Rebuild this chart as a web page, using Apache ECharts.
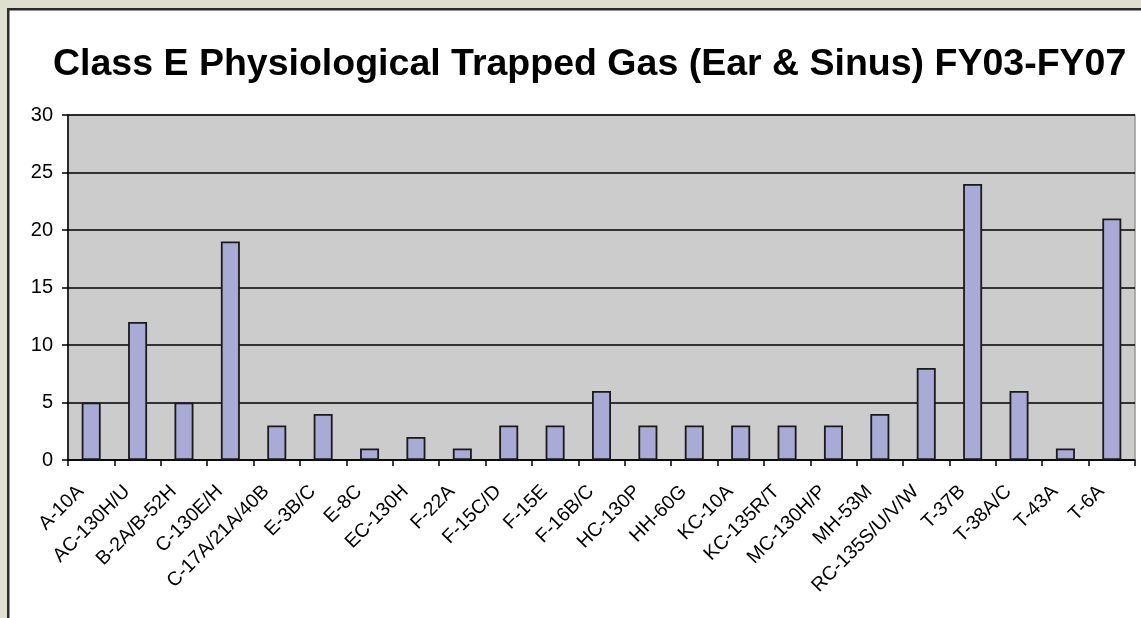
<!DOCTYPE html>
<html><head><meta charset="utf-8">
<script src="https://cdn.jsdelivr.net/npm/echarts@6/dist/echarts.min.js"></script>
<style>html,body{margin:0;padding:0;background:#dfdfcf;}#c{width:1141px;height:618px;}</style>
</head><body><div id="c"></div>
<script>
const title = 'Class E Physiological Trapped Gas (Ear & Sinus) FY03-FY07';
const categories = ['A-10A','AC-130H/U','B-2A/B-52H','C-130E/H','C-17A/21A/40B','E-3B/C','E-8C','EC-130H','F-22A','F-15C/D','F-15E','F-16B/C','HC-130P','HH-60G','KC-10A','KC-135R/T','MC-130H/P','MH-53M','RC-135S/U/V/W','T-37B','T-38A/C','T-43A','T-6A'];
const values = [5,12,5,19,3,4,1,2,1,3,3,6,3,3,3,3,3,4,8,24,6,1,21];
const yTicks = [0,5,10,15,20,25,30];

const font = '"Liberation Sans", Arial, sans-serif';
const chart = echarts.init(document.getElementById('c'), null, {renderer:'canvas'});
chart.setOption({
  backgroundColor: '#dfdfcf',
  animation: false,
  graphic: [{
    type: 'rect', left: 7, top: 8, z: -10,
    shape: {width: 1150, height: 630},
    style: {fill: '#ffffff', stroke: '#2b2b2b', lineWidth: 2.5}
  }],
  title: {
    text: title, left: 48, top: 41,
    textStyle: {fontFamily: font, fontWeight: 'bold', fontSize: 37.5, color: '#000'}
  },
  grid: {
    left: 68, top: 115, right: 6, bottom: 158,
    show: true, backgroundColor: '#cccccc', borderColor: '#999999', borderWidth: 1.5
  },
  xAxis: {
    type: 'category', data: categories,
    axisLine: {lineStyle: {color: '#000', width: 1.5}},
    axisTick: {show: true, length: 6, lineStyle: {color: '#000', width: 1.5}},
    axisLabel: {rotate: 45, fontFamily: font, fontSize: 19.5, color: '#000', margin: 18, padding: [0, 15, 0, 0], interval: 0}
  },
  yAxis: {
    type: 'value', min: yTicks[0], max: yTicks[yTicks.length-1], interval: 5,
    axisLine: {show: true, lineStyle: {color: '#000', width: 1.5}},
    axisTick: {show: true, length: 6, lineStyle: {color: '#000', width: 1.5}},
    splitLine: {show: true, lineStyle: {color: '#000', width: 1.5}},
    axisLabel: {fontFamily: font, fontSize: 20, color: '#000', margin: 15}
  },
  series: [{
    type: 'bar', data: values, barWidth: 19,
    itemStyle: {color: '#aaaad6', borderColor: '#1a1a1a', borderWidth: 1.8}
  }]
});
</script></body></html>
